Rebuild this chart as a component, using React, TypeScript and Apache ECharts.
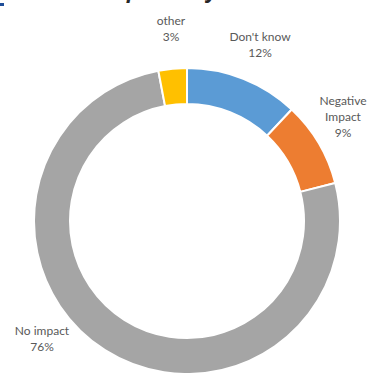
import React, { useEffect, useRef } from "react";
import * as echarts from "echarts";

const categories = ["Don't know", "Negative Impact", "No impact", "other"];
const values = [12, 9, 76, 3];
const colors = ["#5B9BD5", "#ED7D31", "#A5A5A5", "#FFC000"];
const titleText = "Current impact on your business";

// label anchor positions (layout, not data)
const labelPos: [number, number][] = [
  [260, 44],
  [343, 116],
  [42, 338],
  [171, 28],
];

export default function App() {
  const ref = useRef<HTMLDivElement>(null);
  useEffect(() => {
    if (!ref.current) return;
    const chart = echarts.init(ref.current, null, { renderer: "svg" });
    chart.setOption({
      animation: false,
      backgroundColor: "#ffffff",
      graphic: [
        { type: "rect", shape: { x: 0, y: 3, width: 4, height: 3 }, style: { fill: "#1F4E99" } },
        {
          type: "text",
          x: 20,
          y: 0,
          style: {
            text: titleText,
            font: "italic bold 21px 'Open Sans', sans-serif",
            fill: "#262626",
            textVerticalAlign: "bottom",
          },
        },
      ],
      series: [
        {
          type: "pie",
          radius: [117, 153],
          center: [187, 221],
          startAngle: 90,
          clockwise: true,
          avoidLabelOverlap: false,
          itemStyle: { borderColor: "#ffffff", borderWidth: 2 },
          label: {
            show: true,
            position: "outside",
            color: "#595959",
            fontFamily: "Lato, sans-serif",
            fontSize: 12,
            lineHeight: 16,
            align: "center",
            formatter: (p: any) =>
              (p.name === "Negative Impact" ? "Negative\nImpact" : p.name) + "\n" + p.value + "%",
          },
          labelLine: { show: false },
          labelLayout: (params: any) => ({
            x: labelPos[params.dataIndex][0],
            y: labelPos[params.dataIndex][1],
            align: "center",
            verticalAlign: "middle",
          }),
          emphasis: { disabled: true },
          data: categories.map((c, i) => ({
            name: c,
            value: values[i],
            itemStyle: { color: colors[i] },
          })),
        },
      ],
    });
    return () => chart.dispose();
  }, []);
  return (
    <div
      ref={ref}
      style={{ position: "absolute", left: 0, top: 0, width: 368, height: 373 }}
    />
  );
}
